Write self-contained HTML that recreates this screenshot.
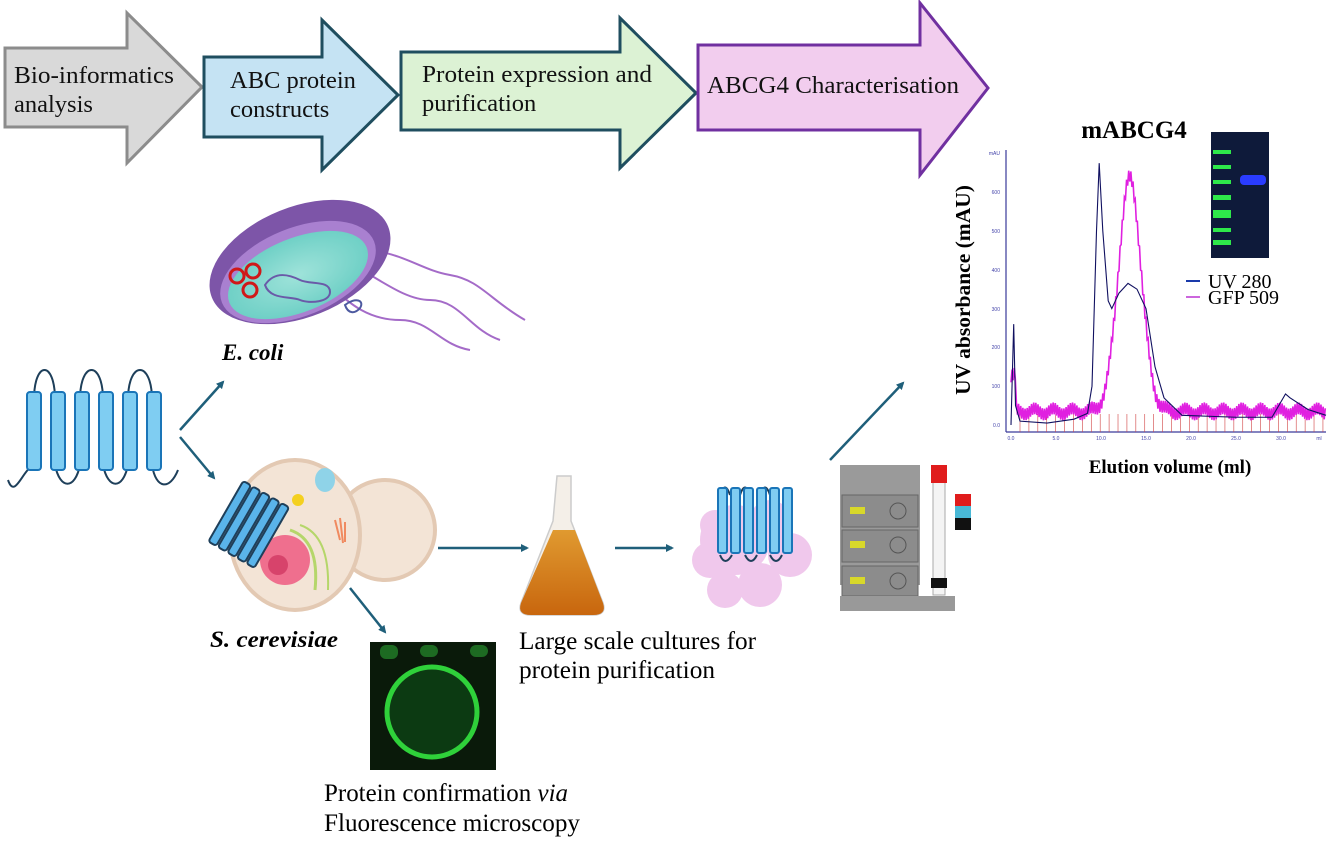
<!DOCTYPE html>
<html><head><meta charset="utf-8"><style>
html,body{margin:0;padding:0;background:#fff;}
svg{display:block;font-family:"Liberation Serif",serif;}
</style></head><body>
<svg width="1338" height="853" viewBox="0 0 1338 853" xmlns="http://www.w3.org/2000/svg">
<defs>
<marker id="ah" markerWidth="8" markerHeight="8" refX="6" refY="4" orient="auto" markerUnits="userSpaceOnUse"><path d="M0,0 L8,4 L0,8 z" fill="#1f5f7a"/></marker>
<radialGradient id="cyt" cx="50%" cy="50%" r="50%"><stop offset="0" stop-color="#9fe3da"/><stop offset="1" stop-color="#6fd0c6"/></radialGradient>
<linearGradient id="liq" x1="0" y1="0" x2="0" y2="1"><stop offset="0" stop-color="#e09a30"/><stop offset="1" stop-color="#c8660e"/></linearGradient>
</defs>

<!-- process arrows -->
<path d="M5,48 H127 V13 L202,87 L127,163 V127 H5 Z" fill="#d9d9d9" stroke="#8c8c8c" stroke-width="3"/>
<path d="M204,57 H322 V20 L398,95 L322,170 V137 H204 Z" fill="#c5e3f3" stroke="#1f4e5f" stroke-width="3"/>
<path d="M401,52 H620 V18 L696,93 L620,168 V130 H401 Z" fill="#dcf2d4" stroke="#1f4e5f" stroke-width="3"/>
<path d="M698,45 H920 V3 L988,88 L920,175 V130 H698 Z" fill="#f2cdee" stroke="#7030a0" stroke-width="3"/>
<g font-size="24.5" fill="#111">
<text x="14" y="83" textLength="160" lengthAdjust="spacingAndGlyphs">Bio-informatics</text><text x="14" y="112">analysis</text>
<text x="230" y="88">ABC protein</text><text x="230" y="117">constructs</text>
<text x="422" y="82" textLength="230" lengthAdjust="spacingAndGlyphs">Protein expression and</text><text x="422" y="111">purification</text>
<text x="707" y="93" textLength="252" lengthAdjust="spacingAndGlyphs">ABCG4 Characterisation</text>
</g>

<!-- E. coli -->
<g>
<path d="M340,260 C370,270 400,300 430,300 C460,300 470,330 500,340 M360,250 C400,250 420,270 450,275 C480,280 490,300 525,320 M330,285 C350,305 370,320 400,320 C430,320 440,345 470,350" fill="none" stroke="#a46bc8" stroke-width="2"/>
<ellipse cx="300" cy="262" rx="95" ry="55" transform="rotate(-22 300 262)" fill="#7d55a8"/>
<ellipse cx="298" cy="272" rx="82" ry="44" transform="rotate(-22 298 272)" fill="#a980d0"/>
<ellipse cx="298" cy="275" rx="74" ry="37" transform="rotate(-22 298 275)" fill="url(#cyt)"/>
<circle cx="237" cy="276" r="7" fill="none" stroke="#d01818" stroke-width="3"/>
<circle cx="253" cy="271" r="7" fill="none" stroke="#d01818" stroke-width="3"/>
<circle cx="250" cy="290" r="7" fill="none" stroke="#d01818" stroke-width="3"/>
<path d="M265,285 c10,-15 25,-10 35,-5 c10,5 30,0 30,12 c0,10 -20,12 -30,8 c-10,-4 -30,0 -35,-15z" fill="none" stroke="#6a5aa8" stroke-width="2"/>
<path d="M345,305 c10,-8 20,-5 15,3 c-5,6 -12,6 -15,-3z" fill="none" stroke="#4d5aa0" stroke-width="2"/>
</g>
<text x="222" y="360" font-size="23" font-style="italic" font-weight="bold">E. coli</text>

<!-- topology protein -->
<g stroke="#1e3f5a" stroke-width="2" fill="none">
<path d="M8,480 C15,500 22,470 34,465 M34,400 C34,360 55,360 55,400 M55,465 C60,490 75,490 80,465 M80,400 C80,360 103,360 103,400 M103,465 C108,490 123,490 128,465 M128,400 C128,360 152,360 152,400 M152,465 C156,490 170,490 178,470"/>
</g>
<g fill="#7fcdf2" stroke="#1a75b8" stroke-width="2">
<rect x="27" y="392" width="14" height="78" rx="3"/><rect x="51" y="392" width="14" height="78" rx="3"/>
<rect x="75" y="392" width="14" height="78" rx="3"/><rect x="99" y="392" width="14" height="78" rx="3"/>
<rect x="123" y="392" width="14" height="78" rx="3"/><rect x="147" y="392" width="14" height="78" rx="3"/>
</g>

<!-- connectors -->
<g stroke="#1f5f7a" stroke-width="2.5" marker-end="url(#ah)">
<line x1="180" y1="430" x2="223" y2="382"/>
<line x1="180" y1="437" x2="214" y2="478"/>
<line x1="438" y1="548" x2="527" y2="548"/>
<line x1="615" y1="548" x2="672" y2="548"/>
<line x1="350" y1="588" x2="385" y2="632"/>
<line x1="830" y1="460" x2="903" y2="383"/>
</g>

<!-- yeast -->
<circle cx="385" cy="530" r="50" fill="#f3e4d6" stroke="#e3c9b3" stroke-width="4"/>
<ellipse cx="295" cy="535" rx="65" ry="75" fill="#f3e4d6" stroke="#e3c9b3" stroke-width="4"/>
<circle cx="285" cy="560" r="25" fill="#ef6f8e"/>
<circle cx="278" cy="565" r="10" fill="#d7436b"/>
<path d="M290,530 q30,10 25,60" fill="none" stroke="#b5d66a" stroke-width="3"/>
<path d="M300,525 q30,10 28,65" fill="none" stroke="#b5d66a" stroke-width="2"/>
<ellipse cx="325" cy="480" rx="10" ry="12" fill="#8fd3e8"/>
<circle cx="298" cy="500" r="6" fill="#f4d020"/>
<path d="M335,520 l5,20 M340,518 l3,25 M345,522 l0,20" stroke="#f08a60" stroke-width="2"/>
<g transform="rotate(-60 245 520)" fill="#5ab4ea" stroke="#1e3f5a" stroke-width="2">
<rect x="208" y="510" width="70" height="9" rx="3"/><rect x="208" y="521" width="70" height="9" rx="3"/>
<rect x="208" y="532" width="70" height="9" rx="3"/><rect x="208" y="543" width="70" height="9" rx="3"/>
<rect x="208" y="499" width="70" height="9" rx="3"/>
</g>
<text x="210" y="647" font-size="23" font-style="italic" font-weight="bold" textLength="128" lengthAdjust="spacingAndGlyphs">S. cerevisiae</text>

<!-- microscopy -->
<rect x="370" y="642" width="126" height="128" fill="#0a1a0a"/>
<circle cx="432" cy="712" r="45" fill="#0c3a12" stroke="#2fd13a" stroke-width="5"/>
<rect x="380" y="645" width="18" height="14" rx="6" fill="#1d6b22"/><rect x="420" y="645" width="18" height="12" rx="6" fill="#1d6b22"/><rect x="470" y="645" width="18" height="12" rx="6" fill="#1d6b22"/>
<text x="324" y="801" font-size="25" textLength="244" lengthAdjust="spacingAndGlyphs">Protein confirmation <tspan font-style="italic">via</tspan></text>
<text x="324" y="831" font-size="25" textLength="256" lengthAdjust="spacingAndGlyphs">Fluorescence microscopy</text>

<!-- flask -->
<path d="M557,476 h14 v45 l32,82 q4,12 -10,12 h-62 q-14,0 -10,-12 l32,-82 z" fill="#f4efe8" stroke="#ccc" stroke-width="1.5"/>
<path d="M553,530 h22 l28,73 q4,12 -10,12 h-62 q-14,0 -10,-12 z" fill="url(#liq)"/>
<text x="519" y="649" font-size="25" textLength="237" lengthAdjust="spacingAndGlyphs">Large scale cultures for</text>
<text x="519" y="678" font-size="25" textLength="196" lengthAdjust="spacingAndGlyphs">protein purification</text>

<!-- vesicle -->
<g fill="#f0c8ec">
<circle cx="735" cy="540" r="35"/><circle cx="710" cy="560" r="18"/><circle cx="760" cy="585" r="22"/><circle cx="725" cy="590" r="18"/><circle cx="790" cy="555" r="22"/><circle cx="715" cy="525" r="15"/><circle cx="770" cy="520" r="20"/>
</g>
<g stroke="#1e3f5a" stroke-width="2" fill="none"><path d="M720,495 q5,-15 10,0 M740,495 q5,-15 10,0 M760,495 q5,-15 10,0 M720,555 q5,12 12,0 M745,555 q6,12 12,0 M770,555 q6,12 12,0"/></g>
<g fill="#7fcdf2" stroke="#1a75b8" stroke-width="2">
<rect x="718" y="488" width="9" height="65" rx="2"/><rect x="731" y="488" width="9" height="65" rx="2"/><rect x="744" y="488" width="9" height="65" rx="2"/><rect x="757" y="488" width="9" height="65" rx="2"/><rect x="770" y="488" width="9" height="65" rx="2"/><rect x="783" y="488" width="9" height="65" rx="2"/>
</g>

<!-- FPLC -->
<rect x="840" y="465" width="80" height="120" fill="#9a9a9a"/>
<rect x="842" y="495" width="76" height="32" fill="#8c8c8c" stroke="#666"/><rect x="842" y="530" width="76" height="32" fill="#8c8c8c" stroke="#666"/><rect x="842" y="566" width="76" height="30" fill="#8c8c8c" stroke="#666"/>
<rect x="850" y="507" width="15" height="7" fill="#d8d82a"/><rect x="850" y="541" width="15" height="7" fill="#d8d82a"/><rect x="850" y="577" width="15" height="7" fill="#d8d82a"/>
<circle cx="898" cy="511" r="8" fill="none" stroke="#555"/><circle cx="898" cy="545" r="8" fill="none" stroke="#555"/><circle cx="898" cy="581" r="8" fill="none" stroke="#555"/>
<rect x="840" y="596" width="115" height="15" fill="#999"/>
<rect x="933" y="470" width="12" height="125" fill="#f4f4f4" stroke="#aaa"/>
<rect x="931" y="465" width="16" height="18" fill="#e01c1c"/><rect x="931" y="578" width="16" height="10" fill="#111"/>
<rect x="955" y="494" width="16" height="12" fill="#e01c1c"/><rect x="955" y="506" width="16" height="12" fill="#49b8d6"/><rect x="955" y="518" width="16" height="12" fill="#111"/>

<!-- chart -->
<text x="1134" y="138" font-size="25" font-weight="bold" text-anchor="middle">mABCG4</text>
<rect x="1211" y="132" width="58" height="126" fill="#0e1a3a"/>
<g fill="#2ee84a"><rect x="1213" y="150" width="18" height="4"/><rect x="1213" y="165" width="18" height="4"/><rect x="1213" y="180" width="18" height="4"/><rect x="1213" y="195" width="18" height="5"/><rect x="1213" y="210" width="18" height="8"/><rect x="1213" y="228" width="18" height="4"/><rect x="1213" y="240" width="18" height="5"/></g>
<rect x="1240" y="175" width="26" height="10" rx="4" fill="#2a3cff"/>
<line x1="1006" y1="150" x2="1006" y2="432" stroke="#3a3a9a" stroke-width="1.2"/>
<line x1="1006" y1="432" x2="1326" y2="432" stroke="#3a3a9a" stroke-width="1.2"/>
<g font-family="Liberation Sans,sans-serif" font-size="5" fill="#4444aa" text-anchor="end">
<text x="1000" y="155">mAU</text><text x="1000" y="194">600</text><text x="1000" y="233">500</text><text x="1000" y="272">400</text><text x="1000" y="311">300</text><text x="1000" y="349">200</text><text x="1000" y="388">100</text><text x="1000" y="427">0.0</text>
</g>
<g font-family="Liberation Sans,sans-serif" font-size="5" fill="#4444aa" text-anchor="middle">
<text x="1011" y="440">0.0</text><text x="1056" y="440">5.0</text><text x="1101" y="440">10.0</text><text x="1146" y="440">15.0</text><text x="1191" y="440">20.0</text><text x="1236" y="440">25.0</text><text x="1281" y="440">30.0</text><text x="1319" y="440">ml</text>
</g>
<g id="fr" stroke="#d04040" stroke-width="0.6"></g>
<polyline id="gfp" fill="none" stroke="#e020e0" stroke-width="1.6"/>
<polyline id="uv" fill="none" stroke="#101060" stroke-width="1.1"/>
<line x1="1186" y1="281" x2="1200" y2="281" stroke="#1a3aaa" stroke-width="2"/>
<line x1="1186" y1="297" x2="1200" y2="297" stroke="#cc66dd" stroke-width="2"/>
<text x="1208" y="288" font-size="20">UV 280</text>
<text x="1208" y="304" font-size="20">GFP 509</text>
<text transform="translate(970,290) rotate(-90)" font-size="21.5" font-weight="bold" text-anchor="middle">UV absorbance (mAU)</text>
<text x="1170" y="473" font-size="19" font-weight="bold" text-anchor="middle">Elution volume (ml)</text>
</svg>
<script>
var X=function(m){return 1011+9*m},Y=function(a){return 425-0.388*a};
var uvp=[[0,0],[0.3,260],[0.5,50],[1,10],[4,5],[7,15],[8.5,30],[9,100],[9.5,500],[9.8,675],[10.2,500],[10.8,320],[11.2,300],[12,340],[13,365],[14,350],[15,300],[16,150],[17,70],[19,25],[25,20],[29,20],[30,60],[30.5,80],[31,70],[33,40],[35,25]];
document.getElementById('uv').setAttribute('points',uvp.map(function(p){return X(p[0])+','+Y(p[1])}).join(' '));
function base(m){var g=0;
 if(m<0.5)g=90;
 g+=Math.max(0,600*Math.exp(-Math.pow((m-13.2)/1.8,2)));
 return g;}
var pts=[];for(var m=0.0;m<=35;m+=0.12){var n=(Math.round(m/0.12)%2?1:-1)*15+8*Math.sin(m*3);var v=base(m)+35+n;pts.push(X(m)+','+Y(v));}
document.getElementById('gfp').setAttribute('points',pts.join(' '));
var fr=document.getElementById('fr'),s='';for(var i=1;i<=35;i++){var x=X(1+(i-1)*0.99);s+='<line x1="'+x+'" y1="414" x2="'+x+'" y2="432"/>';}
fr.innerHTML=s;
</script>
</body></html>
